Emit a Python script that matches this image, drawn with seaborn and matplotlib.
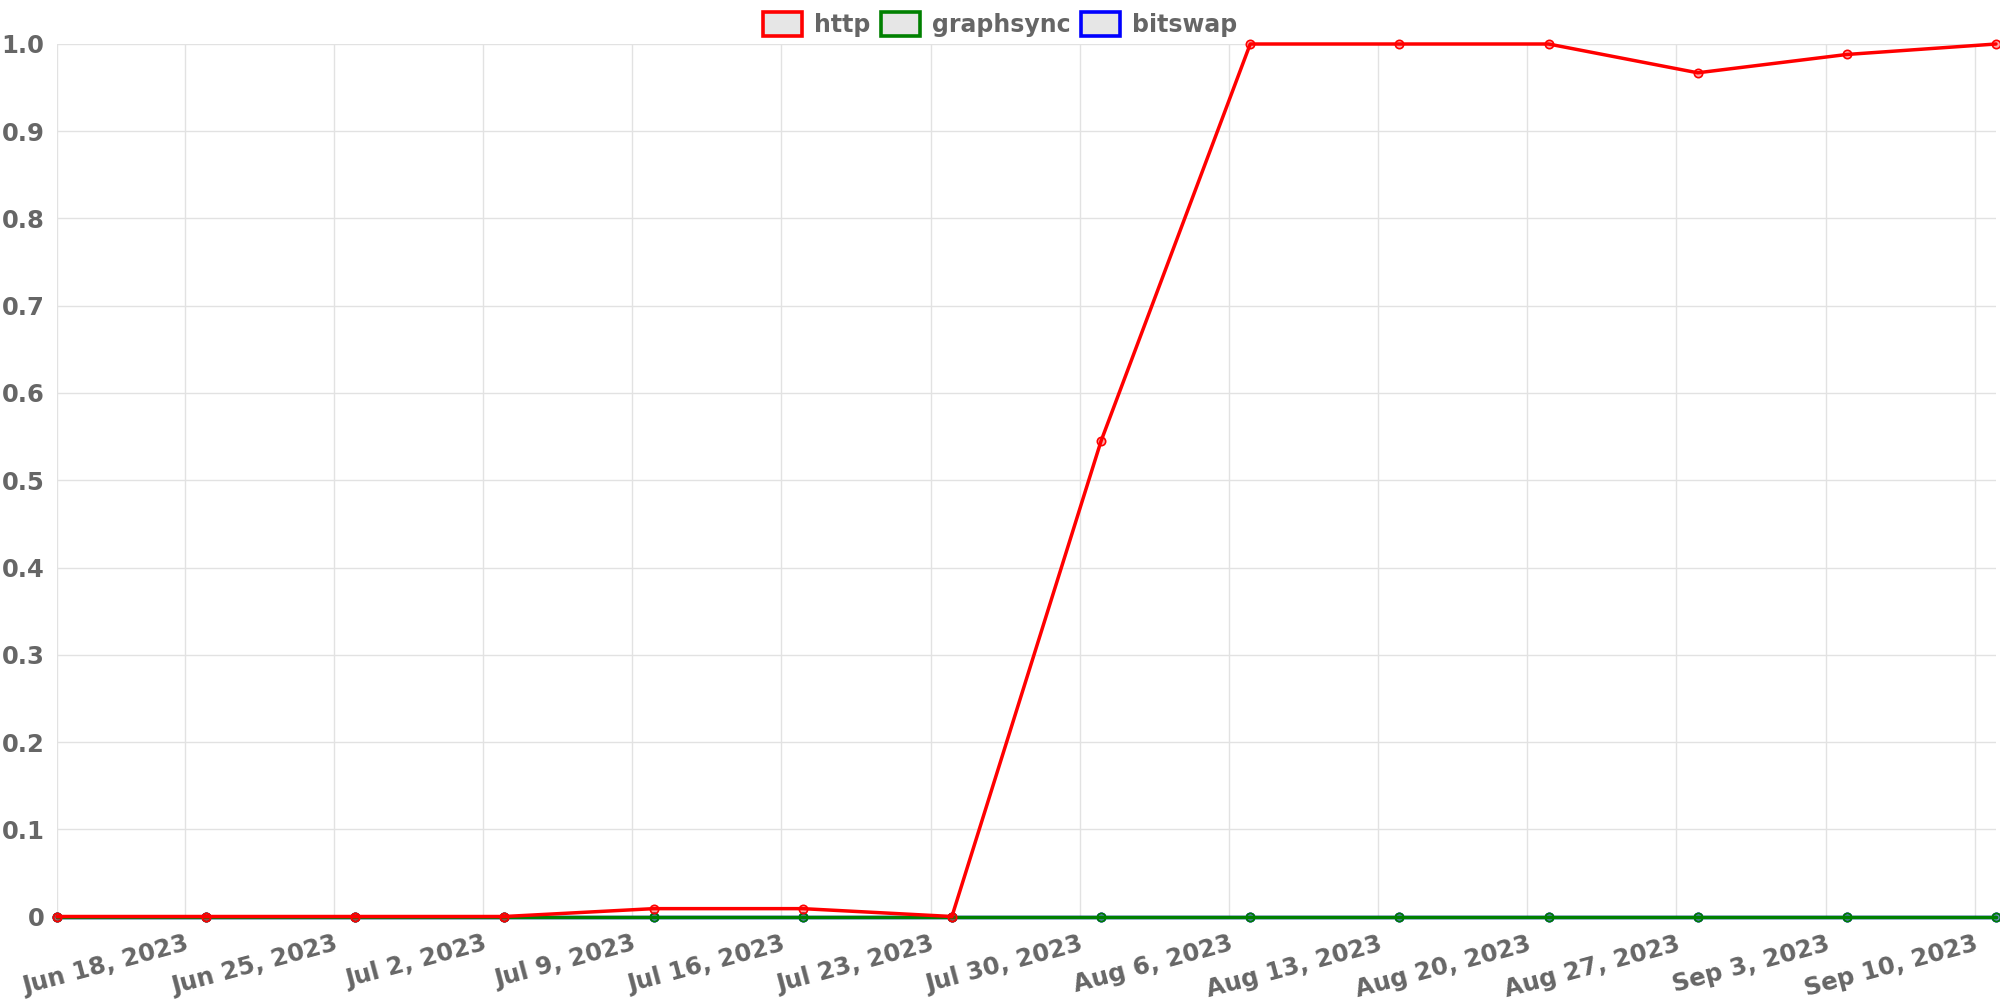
import matplotlib
matplotlib.use("Agg")
import matplotlib.pyplot as plt
import matplotlib.dates as mdates
from matplotlib.patches import Patch
import numpy as np
import pandas as pd
import seaborn as sns

sns.set_theme(style="white")
plt.rcParams["font.family"] = ["DejaVu Sans"]

week_dates = pd.date_range("2023-06-12", "2023-09-11", freq="7D")
http_share = [0, 0, 0, 0, 0.009, 0.009, 0, 0.545, 1.0, 1.0, 1.0, 0.967, 0.988, 1.0]
graphsync_share = [0, 0, 0, 0, 0, 0, 0, 0, 0, 0, 0, 0, 0, 0]
bitswap_share = [0, 0, 0, 0, 0, 0, 0, 0, 0, 0, 0, 0, 0, 0]

series = {
    "http": (http_share, "#ff0000"),
    "graphsync": (graphsync_share, "#008000"),
    "bitswap": (bitswap_share, "#0000ff"),
}

tick_dates = pd.date_range("2023-06-18", "2023-09-10", freq="7D")
y_ticks = np.round(np.arange(0, 1.01, 0.1), 1)
y_labels = ["0"] + [f"{v:.1f}" for v in y_ticks[1:]]

text_grey = "#666666"
grid_grey = "#e2e2e2"

fig = plt.figure(figsize=(20, 10), dpi=100)
ax = fig.add_axes([0.0285, 0.0835, 0.9695, 0.8725])

# draw in reverse so http ends up on top
for name in reversed(list(series)):
    vals, col = series[name]
    df = pd.DataFrame({"date": week_dates, "share": vals})
    sns.lineplot(data=df, x="date", y="share", ax=ax, color=col, lw=2.5,
                 marker="o", markersize=6, markeredgewidth=1.2,
                 markeredgecolor=col, markerfacecolor=matplotlib.colors.to_rgba(col, 0.35),
                 clip_on=False, legend=False)

ax.set_xlim(week_dates[0], week_dates[-1])
ax.set_ylim(0, 1)
ax.set_xticks(tick_dates)
ax.xaxis.set_major_formatter(mdates.DateFormatter("%b %-d, %Y"))
ax.set_yticks(y_ticks)
ax.set_yticklabels(y_labels)
ax.set_xlabel("")
ax.set_ylabel("")

ax.grid(True, color=grid_grey, lw=1)
for s in ax.spines.values():
    s.set_visible(False)
ax.axvline(week_dates[0], color=grid_grey, lw=1, zorder=0)

ax.tick_params(axis="both", length=6, width=1, color=grid_grey, labelcolor=text_grey)
ax.tick_params(axis="x", pad=5, labelsize=17.5)
ax.tick_params(axis="y", pad=3, labelsize=17.5)
for lbl in ax.get_yticklabels():
    lbl.set_fontweight("bold")
for lbl in ax.get_xticklabels():
    lbl.set_fontweight("bold")
    lbl.set_rotation(15)
    lbl.set_ha("right")
    lbl.set_va("top")
    lbl.set_rotation_mode("anchor")

handles = [Patch(facecolor="#e6e6e6", edgecolor=col, linewidth=2.6, label=name)
           for name, (vals, col) in series.items()]
leg = fig.legend(handles=handles, loc="upper center", bbox_to_anchor=(0.5, 1.009), ncol=3,
                 frameon=False, handlelength=1.65, handleheight=1.15, handletextpad=0.5,
                 columnspacing=0.45, prop={"size": 17, "weight": "bold"})
for t in leg.get_texts():
    t.set_color(text_grey)

fig.savefig("out.png", dpi=100)
